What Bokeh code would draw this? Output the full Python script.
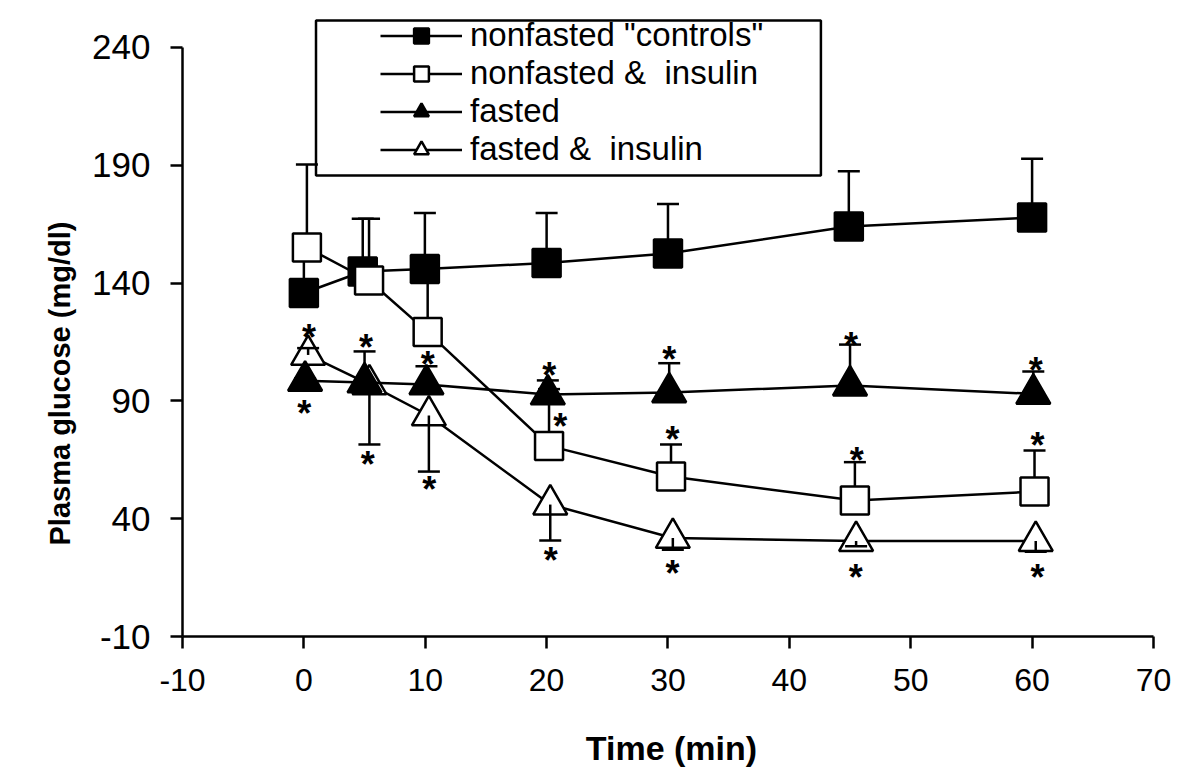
from bokeh.plotting import figure
from bokeh.models import Range1d, Legend, LegendItem, Title, BoxAnnotation, FixedTicker
from bokeh.core.properties import value
from bokeh.embed import file_html
from bokeh.resources import INLINE

# ---------------- data ----------------
x_ticks = [-10, 0, 10, 20, 30, 40, 50, 60, 70]
y_ticks = [-10, 40, 90, 140, 190, 240]

labels = ['nonfasted "controls"', 'nonfasted &  insulin', 'fasted', 'fasted &  insulin']

ctrl_t = [0.0, 4.85, 9.97, 20.0, 30.0, 44.9, 60.0]
ctrl_y = [135.8, 144.9, 146.0, 148.5, 152.6, 164.0, 167.8]
ctrl_err = [152.0, 167.3, 169.7, 169.8, 173.6, 187.5, 192.8]

nfi_t = [0.25, 5.37, 10.2, 20.2, 30.25, 45.4, 60.2]
nfi_y = [155.1, 141.1, 119.2, 70.9, 57.9, 47.7, 51.5]
nfi_err = [190.3, 167.3, 146.0, 95.0, 71.5, 64.0, 68.9]

fst_t = [0.1, 5.0, 10.1, 20.1, 30.1, 45.0, 60.1]
fst_y = [98.5, 97.8, 97.0, 92.7, 93.6, 96.5, 93.0]
fst_err = [99.5, 111.0, 104.7, 98.7, 106.0, 113.9, 102.5]

fsi_t = [0.35, 5.4, 10.3, 20.3, 30.4, 45.5, 60.3]
fsi_y = [109.5, 97.0, 83.8, 46.0, 31.8, 30.5, 30.5]
fsi_err = [112.4, 71.5, 60.0, 30.7, 26.8, 28.3, 26.0]

star_t = [0.42, 0.03, 5.12, 5.26, 10.2, 10.33, 20.21, 21.12, 20.35,
          30.1, 30.38, 30.38, 45.07, 45.56, 45.48, 60.3, 60.44, 60.44]
star_y = [118.9, 86.6, 114.9, 65.0, 107.4, 54.4, 102.9, 81.4, 24.4,
          109.7, 75.7, 18.7, 115.6, 66.8, 17.3, 105.0, 73.2, 17.3]

# ---------------- figure ----------------
p = figure(width=1200, height=782,
           x_range=Range1d(-10, 70.58), y_range=Range1d(-10, 254.0),
           output_backend="svg", toolbar_location=None,
           min_border_left=182, min_border_right=40,
           min_border_top=14, min_border_bottom=146)
p.grid.visible = False
p.outline_line_color = None
p.background_fill_color = "white"
p.border_fill_color = "white"

for ax in (p.xaxis[0], p.yaxis[0]):
    ax.axis_line_width = 2.5
    ax.axis_line_color = "black"
    ax.major_tick_line_width = 2.5
    ax.major_tick_line_color = "black"
    ax.major_tick_out = 12
    ax.major_tick_in = 0
    ax.minor_tick_line_color = None
    ax.major_label_text_color = "black"

p.xaxis.ticker = FixedTicker(ticks=x_ticks)
p.xaxis.major_label_overrides = {t: str(t) for t in x_ticks}
p.xaxis.bounds = (-10, 70)
p.xaxis.major_label_text_font = "Liberation Sans"
p.xaxis.major_label_text_font_size = "32px"
p.xaxis.major_label_standoff = 20
p.xaxis.axis_label = "Time (min)"
p.xaxis.axis_label_text_font = "Liberation Sans"
p.xaxis.axis_label_text_font_style = "bold"
p.xaxis.axis_label_text_font_size = "34px"
p.xaxis.axis_label_text_color = "black"
p.xaxis.axis_label_standoff = 35

p.yaxis.ticker = FixedTicker(ticks=y_ticks)
p.yaxis.major_label_overrides = {t: str(t) for t in y_ticks}
p.yaxis.bounds = (-10, 240)
p.yaxis.major_label_text_font = "Liberation Sans"
p.yaxis.major_label_text_font_size = "35px"
p.yaxis.major_label_standoff = 20

ytitle = Title(text="Plasma glucose (mg/dl)", align="left", offset=91,
               standoff=28, text_font="Liberation Sans", text_font_style="bold",
               text_font_size="29px", text_color="black")
p.add_layout(ytitle, "left")

LW = 2.5


def errbars(t, y, e):
    p.segment(x0=t, y0=y, x1=t, y1=e, line_width=LW, line_color="black")
    p.scatter(t, e, marker="dash", size=22, line_width=LW, line_color="black")


# controls
errbars(ctrl_t, ctrl_y, ctrl_err)
l_ctrl = p.line(ctrl_t, ctrl_y, line_width=LW, line_color="black")
m_ctrl = p.scatter(ctrl_t, ctrl_y, marker="square", size=28, fill_color="black",
                   line_color="black", line_width=LW)
# nonfasted & insulin
errbars(nfi_t, nfi_y, nfi_err)
l_nfi = p.line(nfi_t, nfi_y, line_width=LW, line_color="black")
m_nfi = p.scatter(nfi_t, nfi_y, marker="square", size=28, fill_color="white",
                  line_color="black", line_width=LW)
# fasted & insulin
l_fsi = p.line(fsi_t, fsi_y, line_width=LW, line_color="black")
m_fsi = p.scatter(fsi_t, fsi_y, marker="triangle", size=34, fill_color="white",
                  line_color="black", line_width=LW)
errbars(fsi_t, fsi_y, fsi_err)
# fasted
errbars(fst_t, fst_y, fst_err)
l_fst = p.line(fst_t, fst_y, line_width=LW, line_color="black")
m_fst = p.scatter(fst_t, fst_y, marker="triangle", size=34, fill_color="black",
                  line_color="black", line_width=LW)

# significance asterisks
p.text(star_t, star_y, text=["*"] * len(star_t), text_align="center",
       text_baseline="middle", y_offset=5,
       text_font=value("Liberation Sans"), text_font_style="bold",
       text_font_size="36px", text_color="black")

# legend
box = BoxAnnotation(left=1.0, right=42.6, top=251.5, bottom=185.7,
                    fill_alpha=0, line_color="black", line_alpha=1.0,
                    line_width=LW)
p.add_layout(box)

legend = Legend(items=[
    LegendItem(label=labels[0], renderers=[l_ctrl, m_ctrl]),
    LegendItem(label=labels[1], renderers=[l_nfi, m_nfi]),
    LegendItem(label=labels[2], renderers=[l_fst, m_fst]),
    LegendItem(label=labels[3], renderers=[l_fsi, m_fsi]),
], location=(198, 468), padding=0, margin=0, spacing=0,
    glyph_width=82, glyph_height=37, label_height=37, label_standoff=8,
    label_text_font="Liberation Sans", label_text_font_size="33px",
    label_text_color="black", label_text_baseline="middle",
    border_line_alpha=0, background_fill_alpha=0)
p.add_layout(legend)

open("out.html", "w").write(file_html(p, INLINE))
